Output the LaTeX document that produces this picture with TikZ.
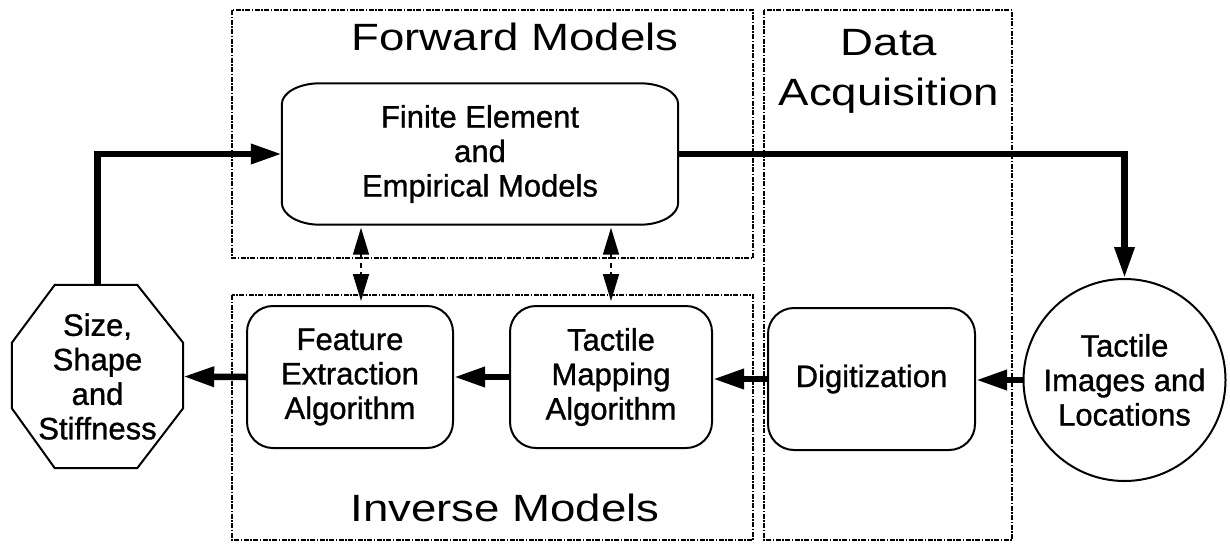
\documentclass[tikz,border=0pt]{standalone}
\usepackage{fontspec}
\setmainfont{Liberation Sans}
\newfontfamily\boxfont[FakeBold=1.0]{Liberation Sans}
\newfontfamily\titlefont[FakeStretch=1.2]{Liberation Sans}
\usetikzlibrary{arrows.meta,calc}
\begin{document}
\begin{tikzpicture}[x=1pt,y=-1pt,
  every node/.style={font={\boxfont\fontsize{31}{34.5}\selectfont}, align=center, inner sep=0pt},
  rbox/.style={draw, line width=2pt, rounded corners=26pt, minimum width=#1, minimum height=142pt},
  region/.style={line width=1.2pt, dash pattern=on 5pt off 1.5pt on 1.5pt off 1.5pt},
  flow/.style={line width=6.5pt, -{Triangle[length=31pt,width=19pt]}},
  link/.style={line width=1.6pt, dash pattern=on 5pt off 4pt, {Triangle[length=27pt,width=16pt]}-{Triangle[length=27pt,width=16pt]}},
  title/.style={font={\titlefont\fontsize{38}{44}\selectfont}, anchor=base},
  outline/.style={line width=2pt}]
\useasboundingbox (0,0) rectangle (1230,544);
% regions
\draw[region] (232,10) rectangle (753,258);
\draw[region] (232,295) rectangle (753,540);
\draw[region] (764,10) rectangle (1012,540);
\node[title] (tfwd) at (515,50) {Forward Models};
\node[title] (tinv) at (505,521) {Inverse Models};
\node[title] (tdata) at (889,55) {Data};
\node[title] (tacq) at (889,105) {Acquisition};
% nodes
\node[minimum width=396pt, minimum height=141pt] (fin) at (480,154) {Finite Element\\and\\Empirical Models};
\draw[outline]
 ([xshift=38pt]fin.north west) -- ([xshift=-38pt]fin.north east)
 .. controls ([xshift=-17pt]fin.north east) and ([yshift=-9.4pt]fin.north east) .. ([yshift=-21pt]fin.north east)
 -- ([yshift=22pt]fin.south east)
 .. controls ([yshift=9.9pt]fin.south east) and ([xshift=-17pt]fin.south east) .. ([xshift=-38pt]fin.south east)
 -- ([xshift=38pt]fin.south west)
 .. controls ([xshift=17pt]fin.south west) and ([yshift=9.9pt]fin.south west) .. ([yshift=22pt]fin.south west)
 -- ([yshift=-21pt]fin.north west)
 .. controls ([yshift=-9.4pt]fin.north west) and ([xshift=17pt]fin.north west) .. cycle;
\node[rbox=206pt] (feat) at (350,377) {Feature\\Extraction\\Algorithm};
\node[rbox=202pt] (tmap) at (611,377) {Tactile\\Mapping\\Algorithm};
\node[rbox=207pt] (digi) at (871.5,379) {Digitization};
\node[draw, circle, outline, minimum size=202pt] (circ) at (1124.5,380) {Tactile\\Images and\\Locations};
\node[minimum width=171pt, minimum height=183pt] (oct) at (97.5,376.5) {Size,\\Shape\\and\\Stiffness};
\draw[outline]
 ([xshift=43pt]oct.north west) -- ([xshift=-46pt]oct.north east)
 -- ([yshift=-58pt]oct.north east) -- ([yshift=60pt]oct.south east)
 -- ([xshift=-46pt]oct.south east) -- ([xshift=43pt]oct.south west)
 -- ([yshift=60pt]oct.south west) -- ([yshift=-58pt]oct.north west) -- cycle;
% connectors
\draw[flow] (oct.north) |- (fin.west);
\draw[flow] (fin.east) -| (circ.north);
\draw[flow] (circ.west) -- (circ.west -| digi.east);
\draw[flow] (digi.west) -- (digi.west -| tmap.east);
\draw[flow] (tmap.west) -- (feat.east);
\draw[flow] (feat.west) -- (oct.east);
\draw[link, shorten <=3pt, shorten >=4pt] ($(fin.south -| feat.north)+(11,0)$) -- ($(feat.north)+(11,0)$);
\draw[link, shorten <=3pt, shorten >=4pt] (fin.south -| tmap.north) -- (tmap.north);
\end{tikzpicture}
\end{document}
